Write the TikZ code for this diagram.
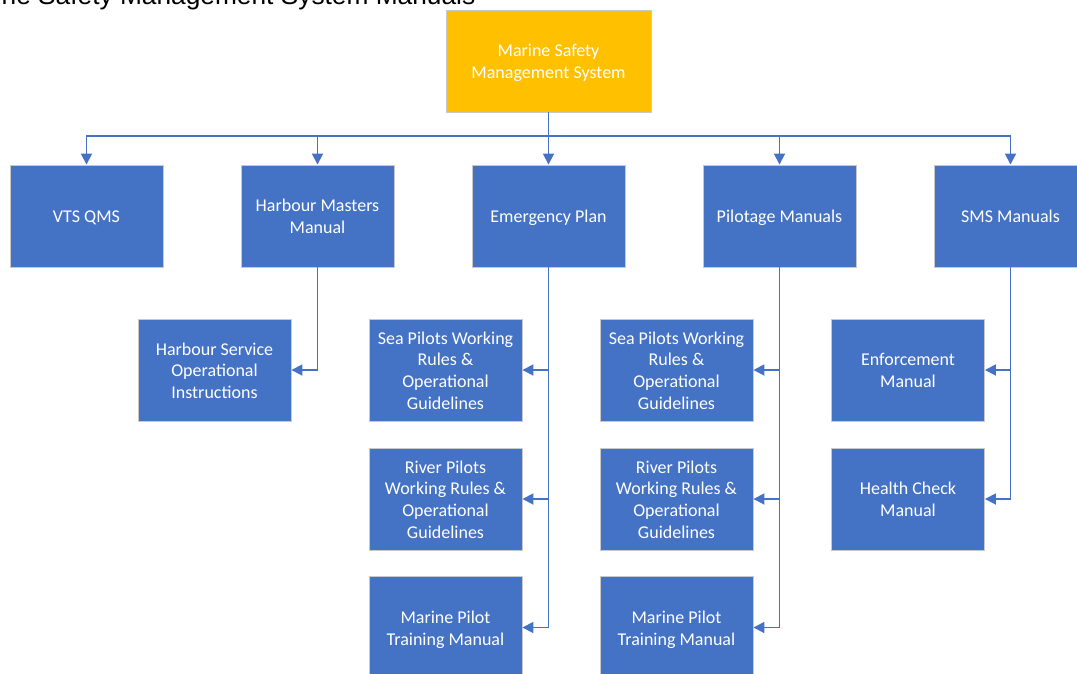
\documentclass[tikz,border=0pt]{standalone}
\usepackage{fontspec}
\setmainfont{Carlito}
\newfontfamily\titlefont{Liberation Sans}
\usetikzlibrary{arrows.meta}
\definecolor{boxblue}{HTML}{4472C4}
\definecolor{boxgold}{HTML}{FFC000}
\definecolor{boxedge}{HTML}{C9C9C9}
% lines of a box label, stacked in a one-column table so every row gets the same
% strut, and set a little low in the box as the label font sits
\newcommand\cell[1]{\raisebox{-2.5pt}[\height][\depth]{\begin{tabular}{@{}c@{}}#1\end{tabular}}}
\tikzset{
  unit/.style={draw=boxedge, line width=0.9pt, fill=boxblue, text=white,
    minimum width=153pt, minimum height=102pt, inner sep=0pt,
    font=\fontsize{18pt}{21.7pt}\selectfont},
  rootbox/.style={unit, fill=boxgold, minimum width=205pt},
  link/.style={draw=boxblue, line width=1.8pt},
  feed/.style={link, -{Triangle[length=11pt,width=11pt]}}
}
\begin{document}
\begin{tikzpicture}[x=1pt,y=-1pt]
\clip (0,0) rectangle (1077,673);
\fill[white] (0,0) rectangle (1077,673);

% heading
\node[anchor=base east, inner sep=0pt, font=\titlefont\fontsize{26.3pt}{30pt}\selectfont]
  (heading) at (475.5,4.5) {Marine Safety Management System Manuals};

% root
\node[rootbox] (msms) at (548.5,61) {\cell{Marine Safety\\Management System}};

% first level
\node[unit] (vts) at (86.5,216)  {\cell{VTS QMS}};
\node[unit] (hmm) at (317.5,216) {\cell{Harbour Masters\\Manual}};
\node[unit] (emp) at (548.5,216) {\cell{Emergency Plan}};
\node[unit] (pil) at (779.5,216) {\cell{Pilotage Manuals}};
\node[unit] (sms) at (1010.5,216) {\cell{SMS Manuals}};

% second level
\node[unit] (hsoi) at (214.5,370) {\cell{Harbour Service\\Operational\\Instructions}};

\node[unit] (esea) at (445.5,370)   {\cell{Sea Pilots Working\\Rules \&\\Operational\\Guidelines}};
\node[unit] (eriv) at (445.5,499)   {\cell{River Pilots\\Working Rules \&\\Operational\\Guidelines}};
\node[unit] (etrn) at (445.5,627.5) {\cell{Marine Pilot\\Training Manual}};

\node[unit] (psea) at (676.5,370)   {\cell{Sea Pilots Working\\Rules \&\\Operational\\Guidelines}};
\node[unit] (priv) at (676.5,499)   {\cell{River Pilots\\Working Rules \&\\Operational\\Guidelines}};
\node[unit] (ptrn) at (676.5,627.5) {\cell{Marine Pilot\\Training Manual}};

\node[unit] (enf) at (908,370) {\cell{Enforcement\\Manual}};
\node[unit] (hcm) at (908,499) {\cell{Health Check\\Manual}};

% distribution bar under the root
\coordinate (bus) at (548.5,136);
\draw[link] (msms.south) -- (bus);
\foreach \n in {vts,hmm,emp,pil,sms}
  \draw[feed] (bus) -| (\n.north);

% branches to the second level
\draw[feed] (hmm.south) |- (hsoi.east);
\foreach \n in {esea,eriv,etrn}
  \draw[feed] (emp.south) |- (\n.east);
\foreach \n in {psea,priv,ptrn}
  \draw[feed] (pil.south) |- (\n.east);
\foreach \n in {enf,hcm}
  \draw[feed] (sms.south) |- (\n.east);
\end{tikzpicture}
\end{document}
